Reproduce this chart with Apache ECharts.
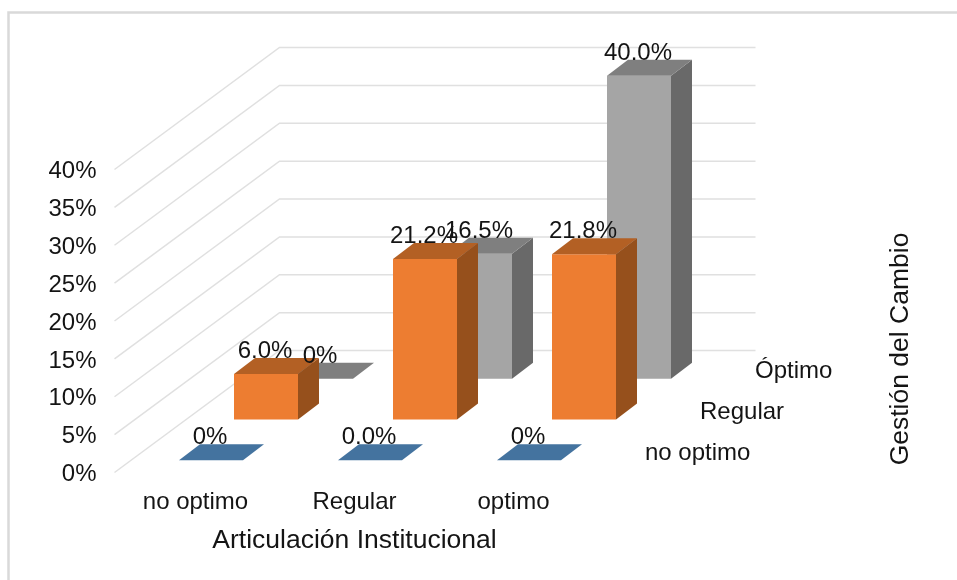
<!DOCTYPE html>
<html>
<head>
<meta charset="utf-8">
<title>Articulación Institucional y Gestión del Cambio</title>
<script src="https://cdn.jsdelivr.net/npm/echarts@6/dist/echarts.min.js"></script>
<style>
  html, body { margin: 0; padding: 0; background: #fff; }
  #chart { width: 957px; height: 580px; }
</style>
</head>
<body>
<div id="chart"></div>
<script>
// Values per depth row, one entry per category, in percent.
const categories = ['no optimo', 'Regular', 'optimo'];
const rowNames = ['no optimo', 'Regular', 'Óptimo'];
const noOptimoValues = [0, 0, 0];
const regularValues = [6.0, 21.2, 21.8];
const optimoValues = [0, 16.5, 40.0];
const noOptimoLabels = ['0%', '0.0%', '0%'];
const regularLabels = ['6.0%', '21.2%', '21.8%'];
const optimoLabels = ['0%', '16.5%', '40.0%'];
const percentTicks = [0, 5, 10, 15, 20, 25, 30, 35, 40];

// Oblique projection used for the depth axis.
const WALL_DX = 165;
const WALL_DY = -122;
const ROW_COUNT = 3;
const BAR_WIDTH = 64;
const BAR_DEPTH_X = 21;
const BAR_DEPTH_Y = -16;

const FONT = '"Liberation Sans", Arial, sans-serif';
const TEXT_COLOR = '#141414';
const TEXT_SIZE = 24;
const NAME_SIZE = 26.5;

const rowStyles = [
  { front: '#4472A0', top: '#44739F', side: '#2F5478' },
  { front: '#ED7D31', top: '#B36024', side: '#96501C' },
  { front: '#A5A5A5', top: '#7F7F7F', side: '#696969' }
];

function rowOffset(row) {
  const t = (row + 0.5) / ROW_COUNT;
  return [WALL_DX * t, WALL_DY * t];
}

function poly(points, fill) {
  return {
    type: 'polygon',
    shape: { points: points },
    style: { fill: fill, stroke: null }
  };
}

// Corners of a bar's front face on the screen.
function barFrame(api, row) {
  const category = api.value(0);
  const value = api.value(1);
  const off = rowOffset(row);
  const base = api.coord([category, 0]);
  const head = api.coord([category, value]);
  const cx = base[0] + off[0] - BAR_DEPTH_X / 2;
  const by = base[1] + off[1] - BAR_DEPTH_Y / 2;
  const ty = head[1] + off[1] - BAR_DEPTH_Y / 2;
  return { left: cx - BAR_WIDTH / 2, right: cx + BAR_WIDTH / 2, bottom: by, top: ty };
}

function barSeries(name, row, values) {
  const colors = rowStyles[row];
  return {
    type: 'custom',
    name: name,
    data: values.map((v, i) => [i, v]),
    encode: { x: 0, y: 1 },
    z: 3,
    renderItem: (params, api) => {
      const f = barFrame(api, row);
      const dx = BAR_DEPTH_X, dy = BAR_DEPTH_Y;
      const children = [];
      if (f.bottom - f.top > 0.5) {
        children.push(poly([[f.left, f.top], [f.right, f.top], [f.right, f.bottom], [f.left, f.bottom]], colors.front));
        children.push(poly([[f.right, f.top], [f.right + dx, f.top + dy], [f.right + dx, f.bottom + dy], [f.right, f.bottom]], colors.side));
      }
      children.push(poly([[f.left, f.top], [f.right, f.top], [f.right + dx, f.top + dy], [f.left + dx, f.top + dy]], colors.top));
      return { type: 'group', children: children };
    }
  };
}

function labelSeries(name, row, values, labels) {
  return {
    type: 'custom',
    name: name,
    data: values.map((v, i) => [i, v]),
    encode: { x: 0, y: 1 },
    z: 6,
    tooltip: { show: false },
    renderItem: (params, api) => {
      const f = barFrame(api, row);
      return {
        type: 'text',
        style: {
          x: (f.left + f.right) / 2 - 1,
          y: f.top + BAR_DEPTH_Y - 6.5,
          text: labels[params.dataIndex],
          align: 'center',
          verticalAlign: 'middle',
          font: TEXT_SIZE + 'px ' + FONT,
          fill: TEXT_COLOR
        }
      };
    }
  };
}

// Left wall and back wall rules, one per percent tick.
const wallSeries = {
  type: 'custom',
  name: 'walls',
  data: percentTicks.map(v => [0, v]),
  encode: { x: 0, y: 1 },
  z: 1,
  silent: true,
  renderItem: (params, api) => {
    const p = api.coord([0, api.value(1)]);
    const band = api.size([1, 0])[0];
    const x0 = p[0] - band / 2;
    const x1 = x0 + WALL_DX;
    const y1 = p[1] + WALL_DY;
    return {
      type: 'polyline',
      shape: { points: [[x0, p[1]], [x1, y1], [x1 + band * categories.length - 1, y1]] },
      style: { stroke: '#e0e0e0', lineWidth: 1.5, fill: null }
    };
  }
};

// Row names sit beyond the right end of the floor.
const rowLabelSeries = {
  type: 'custom',
  name: 'row names',
  data: rowNames.map((n, i) => [categories.length - 1, 0, i]),
  encode: { x: 0, y: 1 },
  z: 6,
  silent: true,
  renderItem: (params, api) => {
    const row = params.dataIndex;
    const p = api.coord([api.value(0), 0]);
    const band = api.size([1, 0])[0];
    const off = rowOffset(row);
    return {
      type: 'text',
      style: {
        x: p[0] + band / 2 + off[0] + 26,
        y: p[1] + off[1] + 1,
        text: rowNames[row],
        align: 'left',
        verticalAlign: 'middle',
        font: TEXT_SIZE + 'px ' + FONT,
        fill: TEXT_COLOR
      }
    };
  }
};

const chart = echarts.init(document.getElementById('chart'), null, { renderer: 'canvas' });
chart.setOption({
  animation: false,
  backgroundColor: '#ffffff',
  textStyle: { fontFamily: FONT },
  grid: { left: 114.5, top: 169.5, width: 477, height: 303 },
  xAxis: {
    type: 'category',
    data: categories,
    axisLine: { show: false },
    axisTick: { show: false },
    axisLabel: { color: TEXT_COLOR, fontSize: TEXT_SIZE, fontFamily: FONT, margin: 18, padding: [0, 0, 0, 3] },
    name: 'Articulación Institucional',
    nameLocation: 'middle',
    nameGap: 55,
    nameTextStyle: { color: TEXT_COLOR, fontSize: NAME_SIZE, fontFamily: FONT, padding: [0, 0, 0, 3] }
  },
  yAxis: {
    type: 'value',
    min: 0,
    max: 40,
    interval: 5,
    splitLine: { show: false },
    axisLine: { show: false },
    axisTick: { show: false },
    axisLabel: {
      margin: 18,
      formatter: '{tick|{value}%}',
      rich: { tick: { color: TEXT_COLOR, fontSize: TEXT_SIZE, fontFamily: FONT, padding: [4, 0, 0, 0] } }
    }
  },
  graphic: [
    { type: 'polyline', silent: true, z: 0,
      shape: { points: [[8.5, 580], [8.5, 12.5], [957, 12.5]] },
      style: { stroke: '#d9d9d9', lineWidth: 2.5, fill: null } },
    { type: 'text', silent: true, x: 901, y: 349, rotation: Math.PI / 2,
      style: { text: 'Gestión del Cambio', align: 'center', verticalAlign: 'middle',
        font: NAME_SIZE + 'px ' + FONT, fill: TEXT_COLOR } }
  ],
  series: [
    wallSeries,
    barSeries('Óptimo', 2, optimoValues),
    barSeries('Regular', 1, regularValues),
    barSeries('no optimo', 0, noOptimoValues),
    labelSeries('Óptimo labels', 2, optimoValues, optimoLabels),
    labelSeries('Regular labels', 1, regularValues, regularLabels),
    labelSeries('no optimo labels', 0, noOptimoValues, noOptimoLabels),
    rowLabelSeries
  ]
});
</script>
</body>
</html>
